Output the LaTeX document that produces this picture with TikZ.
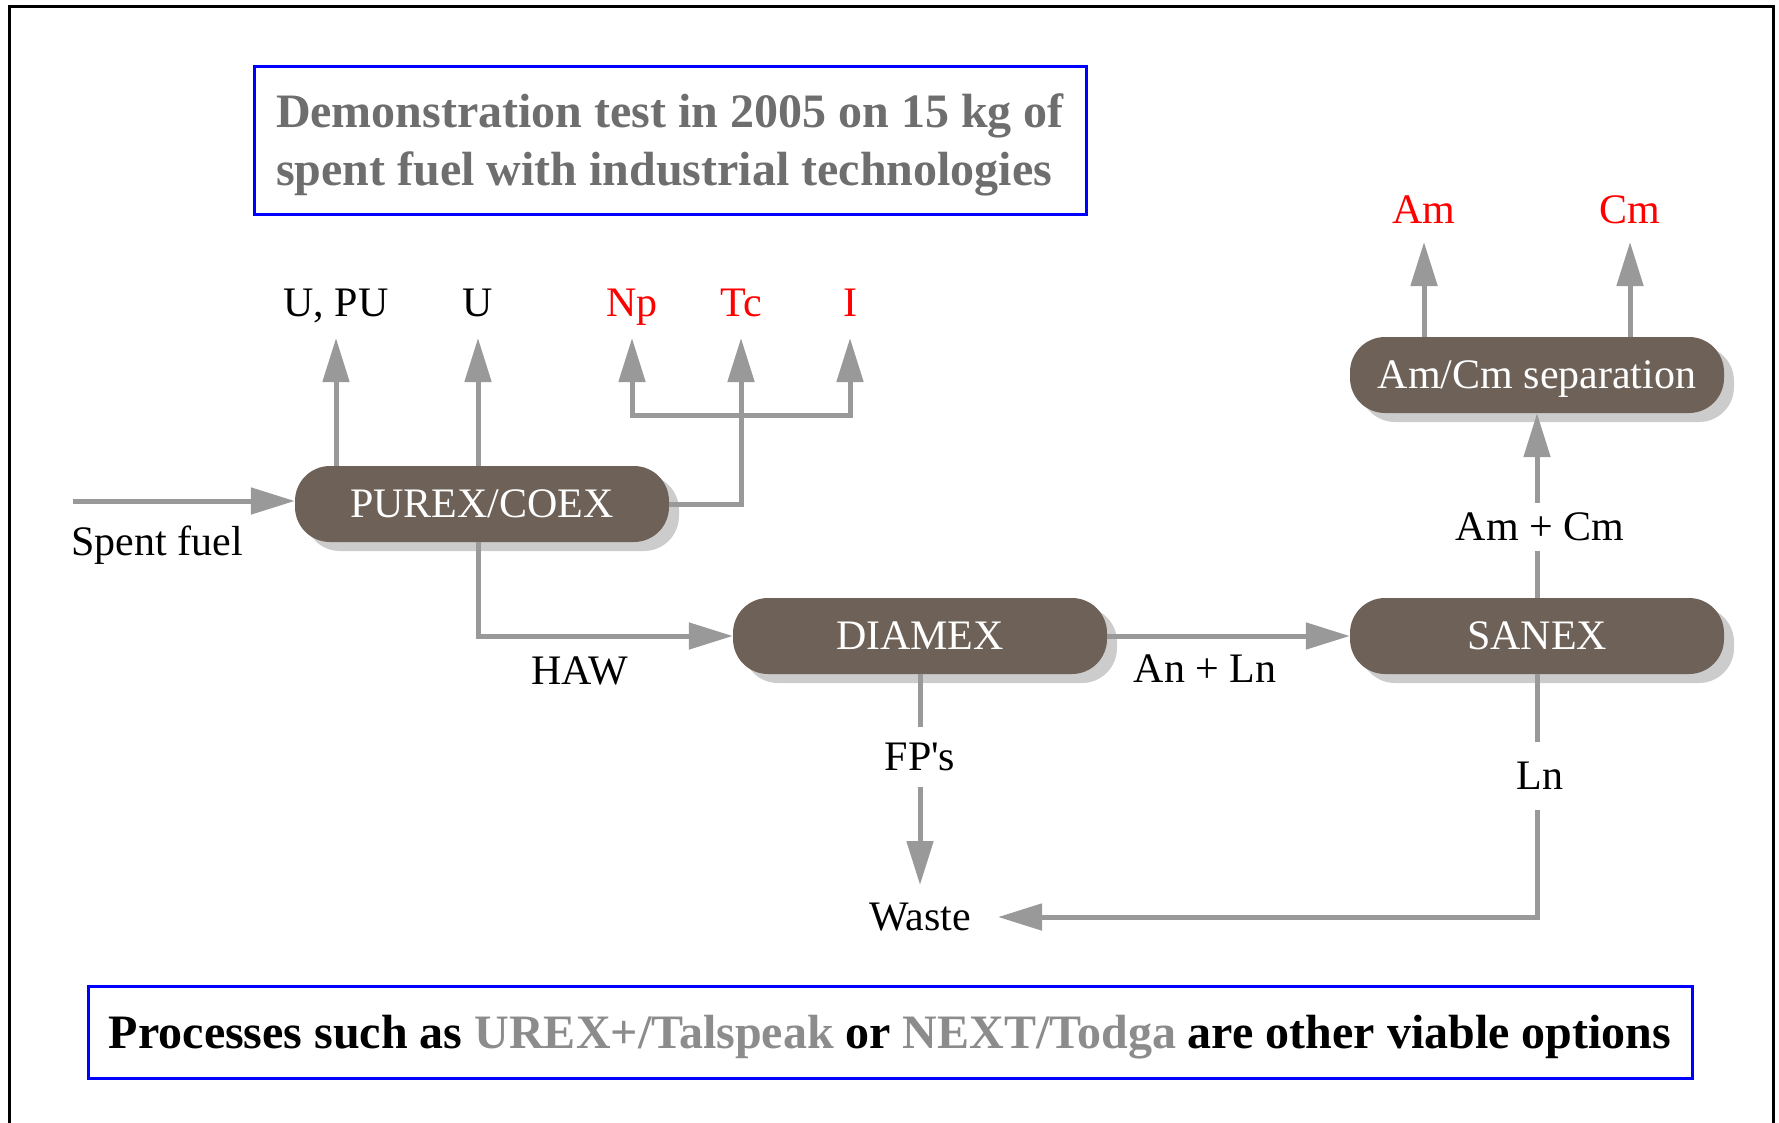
\documentclass[tikz,border=0pt]{standalone}
\usepackage{fontspec}
\setmainfont{Liberation Serif}
\usetikzlibrary{arrows.meta,shadows,calc}
\definecolor{pillfill}{RGB}{110,97,88}
\definecolor{shgray}{RGB}{204,204,204}
\definecolor{flowgray}{RGB}{153,153,153}
\definecolor{titlegray}{RGB}{110,110,110}
\definecolor{optgray}{RGB}{140,140,140}
\definecolor{boxblue}{RGB}{0,0,255}
\definecolor{elred}{RGB}{255,0,0}
\newcommand{\lowertext}[1]{\raisebox{-5pt}[\height][\depth]{#1}}
\begin{document}
\begin{tikzpicture}[x=1pt,y=-1pt,
 pill/.style={draw=none, fill=pillfill, text=white, rounded corners=35pt, minimum width=374pt, minimum height=76pt, inner sep=0pt, font=\fontsize{42}{50}\selectfont, text height=27.7pt, text depth=0pt, drop shadow={shadow xshift=10pt, shadow yshift=-9pt, fill=shgray, opacity=1}},
 lab/.style={inner sep=0pt, font=\fontsize{42}{50}\selectfont, text height=27.7pt, text depth=0pt},
 gaplab/.style={lab, fill=white, inner xsep=4pt},
 flow/.style={draw=flowgray, line width=5pt},
 arr/.style={flow, -{Triangle[length=44pt,width=26pt]}},
 infobox/.style={draw=boxblue, line width=3pt, font=\bfseries\fontsize{48}{58}\selectfont}
]
\useasboundingbox (0,0) rectangle (1779,1122);
% outer frame
\draw[line width=3pt] (9,1140) -- (9,6) -- (1773,6) -- (1773,1140);

% info boxes
\node[infobox, minimum width=832pt, minimum height=148pt, align=left, text=titlegray] (title) at (670,140)
  {\lowertext{Demonstration test in 2005 on 15 kg of}\\\lowertext{spent fuel with industrial technologies}};
\node[infobox, minimum width=1604pt, minimum height=92pt] (note) at (890,1032)
  {\lowertext{Processes such as \textcolor{optgray}{UREX+/Talspeak} or \textcolor{optgray}{NEXT/Todga} are other viable options}};

% process nodes
\node[pill] (purex) at (482,504) {PUREX/COEX};
\node[pill] (diamex) at (920,636) {DIAMEX};
\node[pill] (sanex) at (1537,636) {SANEX};
\node[pill] (amcm) at (1537,375) {Am/Cm separation};

% product labels
\node[lab] (upu) at (336,303) {U, PU};
\node[lab] (u) at (478,303) {U};
\node[lab, text=elred] (np) at (632,303) {Np};
\node[lab, text=elred] (tc) at (741,303) {Tc};
\node[lab, text=elred] (iod) at (850,303) {I};
\node[lab, text=elred] (am) at (1424,210) {Am};
\node[lab, text=elred] (cm) at (1630,210) {Cm};
\node[lab] (spent) at (157,542) {Spent fuel};
\node[lab] (haw) at (580,671) {HAW};
\node[lab] (anln) at (1205,669) {An + Ln};
\node[lab] (waste) at (920,917) {Waste};

\coordinate (sf) at (73,501);
\coordinate (bar) at (0,415);

% connectors
\draw[arr] (sf) -- (sf -| purex.west);
\draw[arr] (purex.north -| upu) -- ([yshift=-35pt]upu.center);
\draw[arr] (purex.north -| u) -- ([yshift=-35pt]u.center);
\draw[arr] (purex.east) -| ([yshift=-35pt]tc.center);
\draw[flow, {Triangle[length=44pt,width=26pt]}-{Triangle[length=44pt,width=26pt]}]
  ([yshift=-35pt]np.center) -- (np |- bar) -- (iod |- bar) -- ([yshift=-35pt]iod.center);
\draw[arr] (u |- purex.south) |- (diamex.west);
\draw[arr] (diamex.east) -- (sanex.west);
\draw[arr] (sanex.north) -- (amcm.south);
\draw[arr] (amcm.north -| am) -- ([yshift=-32pt]am.center);
\draw[arr] (amcm.north -| cm) -- ([yshift=-32pt]cm.center);
\draw[arr] (diamex.south) -- ([yshift=32pt]waste.center);
\draw[arr] (sanex.south) |- ([xshift=78pt]waste.center);

% labels that interrupt lines
\node[gaplab, minimum height=48pt] (amcmlab) at (1540,527) {Am + Cm};
\node[gaplab, minimum height=60pt] (fps) at (920,757) {FP\textquotesingle s};
\node[gaplab, minimum height=68pt] (ln) at (1540,776) {Ln};
\end{tikzpicture}
\end{document}
